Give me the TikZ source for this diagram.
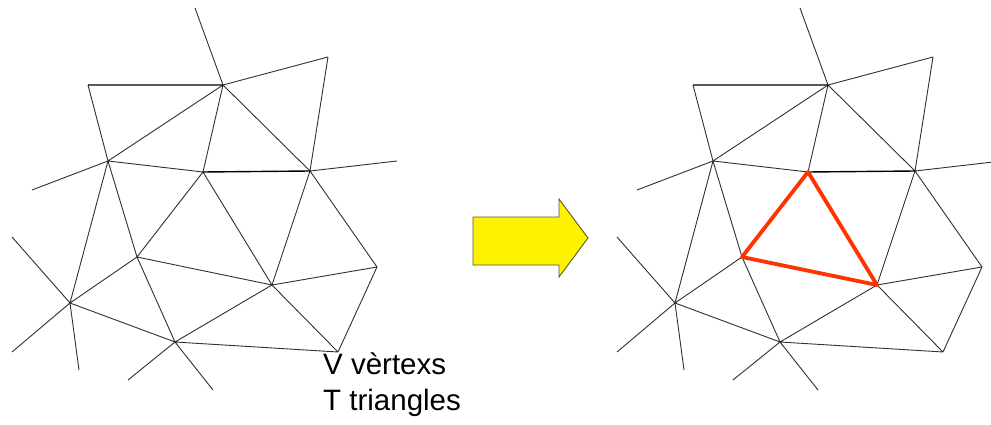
\documentclass[tikz,border=0pt]{standalone}
\usepackage{fontspec}
\setmainfont{Liberation Sans}
\definecolor{meshgray}{HTML}{303030}
\definecolor{hl}{HTML}{FF3300}
\definecolor{arrowedge}{HTML}{5A5A20}
\tikzset{
  mesh/.style={draw=meshgray, line width=0.9pt},
  dark/.style={draw=black, line width=1.4pt},
  redtri/.style={draw=hl, line width=3.8pt, line join=round},
  bigarrow/.style={fill=yellow, draw=arrowedge, line width=0.9pt, line join=miter},
  caption/.style={align=left, anchor=north west, inner sep=0pt, font=\fontsize{29.5}{36}\selectfont}
}
\newcommand{\meshat}[2]{%
  \begin{scope}[xshift=#1]
    \coordinate (#2A) at (223,85);
    \coordinate (#2B) at (88,85);
    \coordinate (#2C) at (328,57);
    \coordinate (#2D) at (108,161);
    \coordinate (#2E) at (203,172);
    \coordinate (#2F) at (310,171);
    \coordinate (#2G) at (137,257);
    \coordinate (#2H) at (272,285);
    \coordinate (#2I) at (377,267);
    \coordinate (#2J) at (70,303);
    \coordinate (#2K) at (175,342);
    \coordinate (#2L) at (338,352);
    \coordinate (#2s1) at (195,8);
    \coordinate (#2s2) at (397,161);
    \coordinate (#2s3) at (32,190);
    \coordinate (#2s4) at (12,237);
    \coordinate (#2s5) at (12,352);
    \coordinate (#2s6) at (79,370);
    \coordinate (#2s7) at (128,380);
    \coordinate (#2s8) at (213,390);
  \end{scope}
  \draw[mesh] (#2B) -- (#2D) (#2A) -- (#2D) (#2A) -- (#2E) (#2A) -- (#2F)
    (#2A) -- (#2C) (#2C) -- (#2F) (#2D) -- (#2E) (#2D) -- (#2G) (#2D) -- (#2J)
    (#2E) -- (#2G) (#2E) -- (#2H) (#2F) -- (#2H) (#2F) -- (#2I)
    (#2G) -- (#2H) (#2G) -- (#2J) (#2G) -- (#2K) (#2H) -- (#2I) (#2H) -- (#2K)
    (#2H) -- (#2L) (#2I) -- (#2L) (#2K) -- (#2L) (#2J) -- (#2K)
    (#2A) -- (#2s1) (#2F) -- (#2s2) (#2D) -- (#2s3)
    (#2J) -- (#2s4) (#2J) -- (#2s5) (#2J) -- (#2s6)
    (#2K) -- (#2s7) (#2K) -- (#2s8);
  \draw[dark] (#2B) -- (#2A) (#2E) -- (#2F);
}
\begin{document}
\begin{tikzpicture}[x=1pt,y=-1pt]
  \useasboundingbox (0,0) rectangle (991,425);
  \meshat{0pt}{l}
  \meshat{605pt}{r}
  \draw[redtri] (rE) -- (rG) -- (rH) -- cycle;
  \node[caption] (cap) at (323,353) {V vèrtexs\\T triangles};
  \coordinate (a1) at (473,217);
  \coordinate (a2) at (559,217);
  \coordinate (a3) at (559,199);
  \coordinate (a4) at (588,238);
  \coordinate (a5) at (559,277);
  \coordinate (a6) at (559,265);
  \coordinate (a7) at (473,265);
  \draw[bigarrow] (a1) -- (a2) -- (a3) -- (a4) -- (a5) -- (a6) -- (a7) -- cycle;
\end{tikzpicture}
\end{document}
